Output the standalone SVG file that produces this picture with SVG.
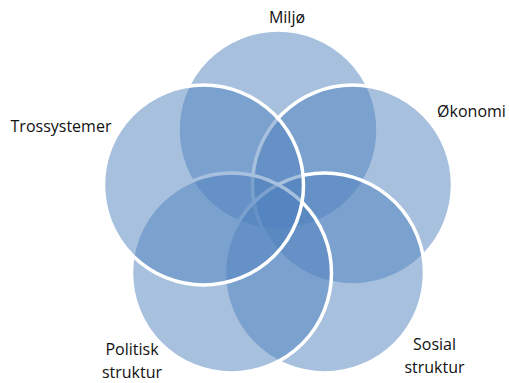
<svg xmlns="http://www.w3.org/2000/svg" width="509" height="383" viewBox="0 0 509 383">
  <style>
    .c { fill: #4F81BD; fill-opacity: 0.5; stroke: #FFFFFF; stroke-width: 3.5; }
    .t { font-family: "Open Sans", "Liberation Sans", sans-serif; font-size: 16px; fill: #111111; text-anchor: middle; }
  </style>
  <rect width="509" height="383" fill="#FFFFFF"/>
  <g id="connectors"></g>
  <g id="miljo">
    <circle class="c" cx="278" cy="130" r="100"/>
    <text class="t" x="287" y="23">Miljø</text>
  </g>
  <g id="okonomi">
    <circle class="c" cx="352.5" cy="185" r="100"/>
    <text class="t" x="471.5" y="117">Økonomi</text>
  </g>
  <g id="sosial">
    <circle class="c" cx="324.5" cy="273" r="100"/>
    <text class="t" x="434.5" y="350">Sosial</text>
    <text class="t" x="434.5" y="373">struktur</text>
  </g>
  <g id="politisk">
    <circle class="c" cx="231.5" cy="273" r="100"/>
    <text class="t" x="132" y="355">Politisk</text>
    <text class="t" x="132" y="378">struktur</text>
  </g>
  <g id="trossystemer">
    <circle class="c" cx="203.5" cy="185" r="100"/>
    <text class="t" x="61" y="132">Trossystemer</text>
  </g>
</svg>
